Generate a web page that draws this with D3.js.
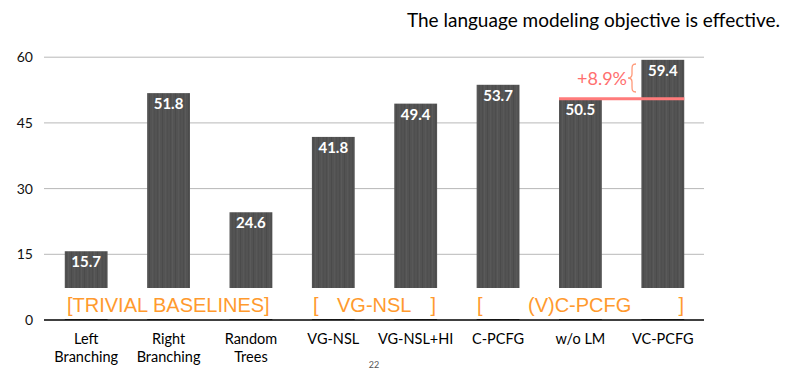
<!DOCTYPE html>
<html><head><meta charset="utf-8">
<script src="https://cdn.jsdelivr.net/npm/d3@7"></script>
<style>
html,body{margin:0;padding:0;background:#fff;}
svg{display:block;}
</style></head>
<body>
<script>
const categories = [["Left","Branching"],["Right","Branching"],["Random","Trees"],["VG-NSL"],["VG-NSL+HI"],["C-PCFG"],["w/o LM"],["VC-PCFG"]];
const values = [15.7, 51.8, 24.6, 41.8, 49.4, 53.7, 50.5, 59.4];
const yTicks = [0, 15, 30, 45, 60];
const title = "The language modeling objective is effective.";
const gainLabel = "+8.9%";
const baseValue = 50.5;

const W = 789, H = 377;
const svg = d3.select("body").append("svg").attr("width", W).attr("height", H);
const font = "Lato, 'Gill Sans', 'Open Sans', sans-serif";

// subtle wood-grain texture
const defs = svg.append("defs");
const pat = defs.append("pattern").attr("id","wood").attr("patternUnits","userSpaceOnUse")
  .attr("width", 13).attr("height", 40);
pat.append("rect").attr("width",13).attr("height",40).attr("fill","#535353");
[[1,"#4d4d4d",1],[3,"#5a5a5a",1],[6,"#4b4b4b",1],[9,"#585858",1],[11,"#4f4f4f",1]].forEach(([x,c,w])=>{
  pat.append("rect").attr("x",x).attr("y",0).attr("width",w).attr("height",40).attr("fill",c);
});

const x = d3.scaleBand().domain(d3.range(values.length)).range([45, 704]).paddingInner(0.48).paddingOuter(0.24);
const y = d3.scaleLinear().domain([0, 60]).range([320, 57.2]);

// gridlines
svg.append("g").selectAll("line").data(yTicks.filter(d=>d>0)).join("line")
  .attr("x1", 44).attr("x2", 704).attr("y1", d=>y(d)).attr("y2", d=>y(d))
  .attr("stroke", "#b8b8b8").attr("stroke-width", 1);

// y axis labels
const yAxis = d3.axisLeft(y).tickValues(yTicks).tickSize(0).tickPadding(0);
const ya = svg.append("g").attr("transform","translate(33,0)").call(yAxis);
ya.select(".domain").remove();
ya.selectAll("text").attr("font-family", font).attr("font-size", 14).attr("fill", "#111");

// bars
svg.append("g").selectAll("rect").data(values).join("rect")
  .attr("x", (d,i)=>x(i)).attr("width", x.bandwidth())
  .attr("y", d=>y(d)).attr("height", d=>y(0)-y(d))
  .attr("fill", "url(#wood)");

// value labels
svg.append("g").selectAll("text").data(values).join("text")
  .attr("x", (d,i)=>x(i)+x.bandwidth()/2).attr("y", d=>y(d)+16)
  .attr("text-anchor","middle").attr("font-family", font).attr("font-weight","bold")
  .attr("font-size", 15).attr("fill","#fff").text(d=>d.toFixed(1));

// white band with group labels
svg.append("rect").attr("x", 44).attr("y", 288).attr("width", 662).attr("height", 31).attr("fill","#fff");

// axis line
svg.append("line").attr("x1",44).attr("x2",704).attr("y1",y(0)).attr("y2",y(0)).attr("stroke","#000").attr("stroke-width",1.5);

const orange = "#ff9a2e";
const gfont = "'Liberation Sans', Arial, sans-serif";
const groups = [
  {t:"[TRIVIAL BASELINES]", x:67, a:"start"},
  {t:"[", x:313, a:"start"},
  {t:"VG-NSL", x:337, a:"start"},
  {t:"]", x:436, a:"end"},
  {t:"[", x:477, a:"start"},
  {t:"(V)C-PCFG", x:528, a:"start"},
  {t:"]", x:684, a:"end"}
];
svg.append("g").selectAll("text").data(groups).join("text")
  .attr("x", d=>d.x).attr("y", 312).attr("text-anchor", d=>d.a)
  .attr("font-family", gfont).attr("font-size", 20).attr("fill", orange).text(d=>d.t);

// x category labels
const xl = svg.append("g").selectAll("text").data(categories).join("text")
  .attr("x", (d,i)=>x(i)+x.bandwidth()/2).attr("y", 344)
  .attr("text-anchor","middle").attr("font-family", font).attr("font-size", 14.5).attr("fill","#000");
xl.each(function(d){
  const t = d3.select(this);
  d.forEach((line, j)=>{
    t.append("tspan").attr("x", t.attr("x")).attr("dy", j===0?0:18).text(line);
  });
});

// annotation line
const salmon = "#ff7b7b";
svg.append("line").attr("x1", x(6)).attr("x2", x(7)+x.bandwidth())
  .attr("y1", y(baseValue)).attr("y2", y(baseValue)).attr("stroke", salmon).attr("stroke-width", 3);
svg.append("text").attr("x", 627).attr("y", 85).attr("text-anchor","end")
  .attr("font-family", font).attr("font-size", 18).attr("fill", "#ff6f6f").text(gainLabel);
// brace
const bt = 64, bb = 92, bm = (bt+bb)/2, bx = 636;
svg.append("path")
  .attr("d", `M${bx},${bt} C${bx-4},${bt} ${bx-4},${bt+2} ${bx-4},${bt+6} L${bx-4},${bm-4} C${bx-4},${bm-1} ${bx-6},${bm} ${bx-8},${bm} C${bx-6},${bm} ${bx-4},${bm+1} ${bx-4},${bm+4} L${bx-4},${bb-6} C${bx-4},${bb-2} ${bx-4},${bb} ${bx},${bb}`)
  .attr("fill","none").attr("stroke","#ff9a7a").attr("stroke-width",1.3);

// title
svg.append("text").attr("x", 780).attr("y", 27).attr("text-anchor","end")
  .attr("font-family", font).attr("font-size", 19).attr("fill","#000").text(title);

// page number
svg.append("text").attr("x", 374).attr("y", 368).attr("text-anchor","middle")
  .attr("font-family", font).attr("font-size", 9).attr("fill","#555").text("22");
</script>
</body></html>
